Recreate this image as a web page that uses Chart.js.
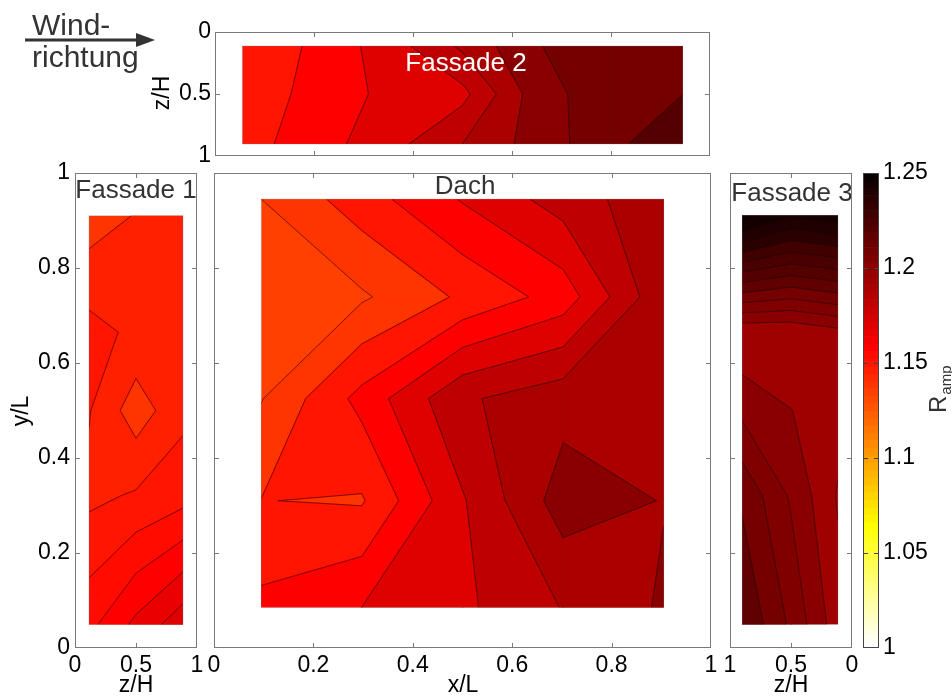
<!DOCTYPE html>
<html>
<head>
<meta charset="utf-8">
<script src="https://cdn.jsdelivr.net/npm/chart.js@4.4.1/dist/chart.umd.min.js"></script>
<style>
  body { margin: 0; background: #fff; }
  #wrap { position: relative; width: 952px; height: 698px; }
  #wrap canvas { position: absolute; left: 0; top: 0; }
</style>
</head>
<body>
<div id="wrap">
  <canvas id="f2" width="952" height="698"></canvas>
  <canvas id="f1" width="952" height="698"></canvas>
  <canvas id="dach" width="952" height="698"></canvas>
  <canvas id="f3" width="952" height="698"></canvas>
  <canvas id="cbar" width="952" height="698"></canvas>
</div>
<script>
const W = 952, H = 698, AX = 50;
const FONT = "'Liberation Sans', Arial, sans-serif";
const C_MIN = 1, C_MAX = 1.25;

// Fassade 2 (oben), x/L gegen z/H
const f2Cols = [0.055, 0.203, 0.352, 0.5, 0.648, 0.797, 0.945];
const f2Rows = [0.113, 0.5, 0.903];
const f2Vals = [
  [1.151, 1.162, 1.1751, 1.1919, 1.2095, 1.215, 1.218],
  [1.1528, 1.1636, 1.1725, 1.177, 1.205, 1.2165, 1.2199],
  [1.1558, 1.1654, 1.1763, 1.19, 1.2042, 1.2168, 1.2289]
];
const f2Levels = [1.15, 1.16, 1.17, 1.18, 1.19, 1.2, 1.21, 1.22, 1.23];

// Fassade 1 (links), z/H gegen y/L
const f1Cols = [0.115, 0.5, 0.885];
const sideRows = [0.05, 0.32, 0.5, 0.665, 0.91];
const f1Vals = [
  [1.1585, 1.1662, 1.1732],
  [1.1488, 1.1506, 1.1531],
  [1.1503, 1.1423, 1.1487],
  [1.1518, 1.1489, 1.1475],
  [1.1423, 1.1453, 1.147]
];
const f1Levels = [1.14, 1.145, 1.15, 1.155, 1.16, 1.165, 1.17, 1.175];

// Dach, x/L gegen y/L
const dachCols = [0.095, 0.2975, 0.5, 0.7025, 0.905];
const dachRows = [0.086, 0.31, 0.525, 0.739, 0.945];
const dachVals = [
  [1.1625, 1.17, 1.178, 1.1905, 1.2013],
  [1.1502, 1.149, 1.179, 1.205, 1.1996],
  [1.1395, 1.1633, 1.1885, 1.1962, 1.195],
  [1.133, 1.1386, 1.1517, 1.1643, 1.198],
  [1.14, 1.1554, 1.1708, 1.1845, 1.197]
];
const dachLevels = [1.133, 1.14, 1.15, 1.16, 1.17, 1.18, 1.19, 1.2, 1.21];

// Fassade 3 (rechts), z/H (umgekehrt) gegen y/L
const f3Cols = [0.115, 0.5, 0.9];
const f3Vals = [
  [1.1971, 1.209, 1.2196],
  [1.1945, 1.2043, 1.2141],
  [1.197, 1.2001, 1.2038],
  [1.1983, 1.1957, 1.1955],
  [1.248, 1.2455, 1.253]
];
const f3Levels = [1.19, 1.195, 1.2, 1.205, 1.21, 1.215, 1.22, 1.225, 1.23, 1.235, 1.24, 1.245, 1.25];

// tick values
const unitTicks = [0, 0.2, 0.4, 0.6, 0.8, 1];
const halfTicks = [0, 0.5, 1];
const cbarTicks = [1, 1.05, 1.1, 1.15, 1.2, 1.25];

// MATLAB hot(64), umgedreht: 1 = weiss, 1.25 = schwarz
function hot(v) {
  let idx = Math.floor((v - C_MIN) / (C_MAX - C_MIN) * 64 + 1e-9);
  idx = Math.max(0, Math.min(63, idx));
  const k = 63 - idx;
  const r = k < 24 ? (k + 1) / 24 : 1;
  const g = k < 24 ? 0 : k < 48 ? (k - 23) / 24 : 1;
  const b = k < 48 ? 0 : (k - 47) / 16;
  return `rgb(${Math.round(r * 255)},${Math.round(g * 255)},${Math.round(b * 255)})`;
}

const cut = (a, b, L) => {
  const t = (L - a.v) / (b.v - a.v);
  return { x: a.x + t * (b.x - a.x), y: a.y + t * (b.y - a.y), v: L };
};

function clip(poly, L) {
  const out = [];
  for (let i = 0; i < poly.length; i++) {
    const a = poly[i], b = poly[(i + 1) % poly.length];
    if (a.v >= L) out.push(a);
    if ((a.v >= L) !== (b.v >= L)) out.push(cut(a, b, L));
  }
  return out;
}

function crossings(cell, L) {
  const pts = [];
  for (let e = 0; e < 4; e++) {
    const a = cell[e], b = cell[(e + 1) % 4];
    if ((a.v >= L) !== (b.v >= L)) pts.push(cut(a, b, L));
  }
  return pts;
}

const isSaddle = (cell, L) => crossings(cell, L).length === 4;
const centre = cell => cell.reduce((s, c) => s + c.v, 0) / 4;

// part of one grid cell with value >= L (marching squares, centre decides saddles)
function aboveParts(cell, L) {
  if (isSaddle(cell, L) && centre(cell) < L) {
    const parts = [];
    for (let i = 0; i < 4; i++) {
      const c = cell[i];
      if (c.v < L) continue;
      const p = cell[(i + 3) % 4], n = cell[(i + 1) % 4];
      parts.push([cut(p, c, L), c, cut(c, n, L)]);
    }
    return parts;
  }
  const poly = clip(cell, L);
  return poly.length >= 3 ? [poly] : [];
}

function contourSegs(cell, L) {
  const p = crossings(cell, L);
  if (p.length === 2) return [[p[0], p[1]]];
  if (p.length !== 4) return [];
  return (centre(cell) >= L) === (cell[0].v >= L)
    ? [[p[0], p[1]], [p[2], p[3]]]
    : [[p[3], p[0]], [p[1], p[2]]];
}

function drawField(chart, f) {
  const { ctx, scales: { x, y } } = chart;
  const P = p => [x.getPixelForValue(p.x), y.getPixelForValue(p.y)];
  const lv = f.levels;
  const [x0, y0] = P({ x: f.cols[0], y: f.rows[0] });
  const [x1, y1] = P({ x: f.cols[f.cols.length - 1], y: f.rows[f.rows.length - 1] });
  const rect = [Math.min(x0, x1), Math.min(y0, y1), Math.abs(x1 - x0), Math.abs(y1 - y0)];
  const cells = [];
  for (let j = 0; j < f.rows.length - 1; j++) {
    for (let i = 0; i < f.cols.length - 1; i++) {
      cells.push([
        { x: f.cols[i], y: f.rows[j], v: f.vals[j][i] },
        { x: f.cols[i + 1], y: f.rows[j], v: f.vals[j][i + 1] },
        { x: f.cols[i + 1], y: f.rows[j + 1], v: f.vals[j + 1][i + 1] },
        { x: f.cols[i], y: f.rows[j + 1], v: f.vals[j + 1][i] }
      ]);
    }
  }
  ctx.save();
  ctx.beginPath();
  ctx.rect(...rect);
  ctx.clip();
  // filled levels, lowest first
  ctx.fillStyle = hot(lv[0]);
  ctx.fillRect(...rect);
  lv.slice(1).forEach(L => {
    ctx.fillStyle = ctx.strokeStyle = hot(L);
    ctx.lineWidth = 1.4;
    cells.forEach(cell => aboveParts(cell, L).forEach(poly => {
      ctx.beginPath();
      poly.forEach((p, n) => { const [a, b] = P(p); n ? ctx.lineTo(a, b) : ctx.moveTo(a, b); });
      ctx.closePath();
      ctx.fill();
      ctx.stroke();
    }));
  });
  // contour lines
  ctx.strokeStyle = 'rgba(35,0,0,0.7)';
  ctx.lineWidth = 0.8;
  cells.forEach(cell => lv.forEach(L => contourSegs(cell, L).forEach(([p, q]) => {
    const [a, b] = P(p), [c, d] = P(q);
    ctx.beginPath(); ctx.moveTo(a, b); ctx.lineTo(c, d); ctx.stroke();
  })));
  ctx.restore();
  // outline of the measured area
  ctx.save();
  ctx.strokeStyle = 'rgba(120,120,120,0.5)';
  ctx.lineWidth = 0.6;
  ctx.strokeRect(...rect);
  ctx.restore();
}

function drawFrame(chart, color) {
  const { ctx, chartArea: a, scales: { x, y } } = chart;
  ctx.save();
  ctx.strokeStyle = color;
  ctx.lineWidth = 1;
  ctx.strokeRect(a.left + 0.5, a.top + 0.5, a.right - a.left - 1, a.bottom - a.top - 1);
  ctx.beginPath();
  x.ticks.forEach(t => {
    if (t.value <= x.min || t.value >= x.max) return;
    const px = Math.round(x.getPixelForValue(t.value)) + 0.5;
    ctx.moveTo(px, a.top); ctx.lineTo(px, a.top + 5);
    ctx.moveTo(px, a.bottom); ctx.lineTo(px, a.bottom - 5);
  });
  y.ticks.forEach(t => {
    if (t.value <= y.min || t.value >= y.max) return;
    const py = Math.round(y.getPixelForValue(t.value)) + 0.5;
    ctx.moveTo(a.left, py); ctx.lineTo(a.left + 5, py);
    ctx.moveTo(a.right, py); ctx.lineTo(a.right - 5, py);
  });
  ctx.stroke();
  ctx.restore();
}

function text(ctx, str, x, y, opt = {}) {
  ctx.save();
  ctx.font = `${opt.size || 23}px ${FONT}`;
  ctx.fillStyle = opt.color || '#000';
  ctx.textAlign = opt.align || 'center';
  ctx.textBaseline = opt.base || 'middle';
  ctx.translate(x, y);
  if (opt.rot) ctx.rotate(-Math.PI / 2);
  ctx.fillText(str, 0, 0);
  ctx.restore();
}

function axis(pos, ticks, opt = {}) {
  return {
    type: 'linear', position: pos, min: opt.min ?? 0, max: opt.max ?? 1,
    reverse: !!opt.reverse,
    grid: { display: false, drawTicks: false },
    border: { display: false },
    ticks: {
      display: !!opt.labels, autoSkip: false, maxRotation: 0,
      padding: opt.pad ?? 5, color: '#000',
      font: { family: FONT, size: 23 },
      callback: v => String(+v.toFixed(2))
    },
    afterBuildTicks: s => { s.ticks = ticks.map(v => ({ value: v })); },
    afterFit: s => { if (s.isHorizontal()) s.height = AX; else s.width = AX; }
  };
}

function panel(id, box, xAxis, yAxis, field, extra) {
  const pad = {
    left: box[0] - (yAxis.position === 'left' ? AX : 0),
    right: W - box[2] - (yAxis.position === 'right' ? AX : 0),
    top: box[1],
    bottom: H - box[3] - AX
  };
  return new Chart(document.getElementById(id), {
    type: 'scatter',
    data: { datasets: [] },
    options: {
      responsive: false, animation: false, events: [],
      layout: { padding: pad },
      plugins: { legend: { display: false }, tooltip: { enabled: false } },
      scales: { x: xAxis, y: yAxis }
    },
    plugins: [{
      id: 'field-' + id,
      afterDraw: c => {
        if (field) drawField(c, field);
        if (extra) extra(c);
        drawFrame(c, field ? '#7a7a7a' : '#444');
      }
    }]
  });
}

// Fassade 2
panel('f2', [215, 32, 710, 156],
  axis('bottom', unitTicks),
  axis('left', halfTicks, { reverse: true, labels: true, pad: 4 }),
  { cols: f2Cols, rows: f2Rows, vals: f2Vals, levels: f2Levels },
  c => {
    const ctx = c.ctx;
    text(ctx, 'Fassade 2', 466, 64, { size: 26, color: '#fff' });
    text(ctx, 'z/H', 163, 93, { rot: true });
    // Windrichtung
    text(ctx, 'Wind-', 32, 35, { size: 30, color: '#333', align: 'left', base: 'alphabetic' });
    text(ctx, 'richtung', 32, 67, { size: 30, color: '#333', align: 'left', base: 'alphabetic' });
    ctx.save();
    ctx.strokeStyle = ctx.fillStyle = '#333';
    ctx.lineWidth = 3;
    ctx.beginPath(); ctx.moveTo(25, 40); ctx.lineTo(140, 40); ctx.stroke();
    ctx.beginPath(); ctx.moveTo(136, 33); ctx.lineTo(155, 40); ctx.lineTo(136, 47); ctx.closePath(); ctx.fill();
    ctx.restore();
  });

// Fassade 1
panel('f1', [75, 173, 197, 648],
  axis('bottom', halfTicks, { labels: true, pad: 4 }),
  axis('left', unitTicks, { labels: true, pad: 5 }),
  { cols: f1Cols, rows: sideRows, vals: f1Vals, levels: f1Levels },
  c => {
    text(c.ctx, 'Fassade 1', 136, 191, { size: 26, color: '#333' });
    text(c.ctx, 'z/H', 136, 686);
    text(c.ctx, 'y/L', 22, 411, { rot: true });
  });

// Dach
panel('dach', [214, 173, 711, 648],
  axis('bottom', unitTicks, { labels: true, pad: 4 }),
  axis('left', unitTicks),
  { cols: dachCols, rows: dachRows, vals: dachVals, levels: dachLevels },
  c => {
    text(c.ctx, 'Dach', 465, 187, { size: 26, color: '#333' });
    text(c.ctx, 'x/L', 463, 686);
  });

// Fassade 3
panel('f3', [730, 173, 852, 648],
  axis('bottom', halfTicks, { labels: true, pad: 4, reverse: true }),
  axis('left', unitTicks),
  { cols: f3Cols, rows: sideRows, vals: f3Vals, levels: f3Levels },
  c => {
    text(c.ctx, 'Fassade 3', 792, 194, { size: 26, color: '#333' });
    text(c.ctx, 'z/H', 791, 686);
  });

// Farbskala
panel('cbar', [863, 173, 879, 648],
  axis('bottom', []),
  axis('right', cbarTicks, { min: C_MIN, max: C_MAX, labels: true, pad: 4 }),
  null,
  c => {
    const { ctx, chartArea: a, scales: { y } } = c;
    for (let k = 0; k < 64; k++) {
      const lo = C_MIN + k * (C_MAX - C_MIN) / 64, hi = lo + (C_MAX - C_MIN) / 64;
      const y0 = y.getPixelForValue(lo), y1 = y.getPixelForValue(hi);
      ctx.fillStyle = hot((lo + hi) / 2);
      ctx.fillRect(a.left, y1, a.right - a.left, y0 - y1 + 0.6);
    }
    ctx.save();
    ctx.translate(946, 413);
    ctx.rotate(-Math.PI / 2);
    ctx.fillStyle = '#333';
    ctx.textBaseline = 'alphabetic';
    ctx.font = `24px ${FONT}`;
    ctx.fillText('R', 0, 0);
    const w = ctx.measureText('R').width;
    ctx.font = `15px ${FONT}`;
    ctx.fillText('amp', w + 1, 5);
    ctx.restore();
  });
</script>
</body>
</html>
